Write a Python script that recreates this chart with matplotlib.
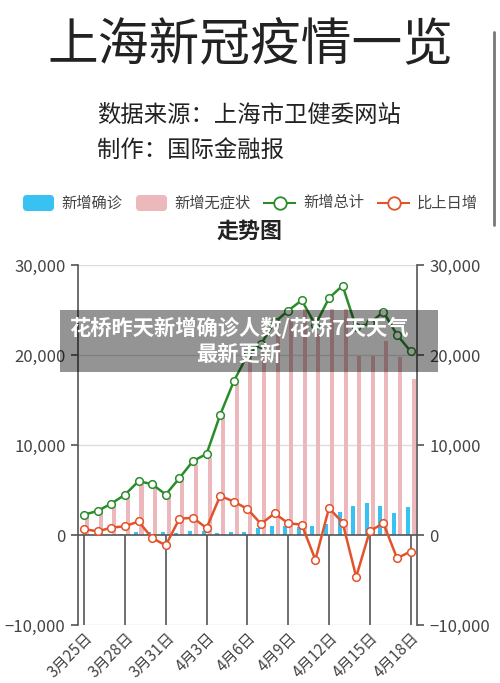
import numpy as np
import matplotlib
matplotlib.use('Agg')
import matplotlib.pyplot as plt
from matplotlib.patches import FancyBboxPatch, Rectangle
from matplotlib.ticker import FuncFormatter

plt.rcParams['font.family'] = ['Noto Sans CJK SC', 'DejaVu Sans']

# ---- data (3/25 .. 4/18)
dates = ['3月25日', '3月26日', '3月27日', '3月28日', '3月29日', '3月30日', '3月31日',
         '4月1日', '4月2日', '4月3日', '4月4日', '4月5日', '4月6日', '4月7日',
         '4月8日', '4月9日', '4月10日', '4月11日', '4月12日', '4月13日', '4月14日',
         '4月15日', '4月16日', '4月17日', '4月18日']
confirmed = [38, 45, 50, 96, 326, 355, 358, 260, 438, 425, 268, 311, 322, 824,
             1015, 1006, 914, 994, 1189, 2573, 3200, 3590, 3238, 2417, 3084]
asymptomatic = [2231, 2631, 3450, 4381, 5656, 5298, 4144, 6051, 7788, 8581, 13086,
                16766, 19660, 20398, 22609, 23937, 25173, 22348, 25141, 25146,
                19872, 19923, 21582, 19831, 17332]
total = [2269, 2676, 3500, 4477, 5982, 5653, 4502, 6311, 8226, 9006, 13354, 17077,
         19982, 21222, 23624, 24943, 26087, 23342, 26330, 27719, 23072, 23513,
         24820, 22248, 20416]
daily_change = [660, 407, 824, 977, 1505, -329, -1151, 1809, 1915, 780, 4348, 3723,
                2905, 1240, 2402, 1319, 1144, -2745, 2988, 1389, -4647, 441, 1307,
                -2572, -1832]

blue = '#38c2f2'
pink = '#ecb8bc'
green = '#2b8c2b'
red = '#e2522b'
axis_col = '#555555'

fig = plt.figure(figsize=(5, 6.83), dpi=100)
ax = fig.add_axes([0.156, 0.0849, 0.678, 0.527])

x = np.arange(len(dates))
w = 0.3
ax.bar(x - 0.22, confirmed, width=w, color=blue, zorder=2)
ax.bar(x + 0.22, asymptomatic, width=w, color=pink, zorder=2)

ax.plot(x, total, color=green, lw=1.8, marker='o', ms=5.5, mfc='white', mec=green,
        mew=1.1, zorder=4)
ax.plot(x, daily_change, color=red, lw=1.8, marker='o', ms=5.5, mfc='white', mec=red,
        mew=1.1, zorder=5)

ax.set_xlim(-0.45, 24.47)
ax.set_ylim(-10000, 30000)

# grid / axis lines
for v in [10000, 20000, 30000, -10000]:
    ax.axhline(v, color='#dddddd', lw=1, zorder=1)
ax.axhline(0, color=axis_col, lw=1.2, zorder=3)
ax.vlines(x[::3], -10000, 0, color=axis_col, lw=1.2, zorder=3)

for s in ['top', 'bottom']:
    ax.spines[s].set_visible(False)
for s in ['left', 'right']:
    ax.spines[s].set_color(axis_col)
    ax.spines[s].set_linewidth(1.2)

ax.set_yticks([-10000, 0, 10000, 20000, 30000])
ax.yaxis.set_major_formatter(FuncFormatter(lambda v, p: f'{v:,.0f}'.replace('-', '−')))
ax.tick_params(axis='y', right=True, labelright=True, direction='out', length=5,
               width=1.2, color=axis_col, labelsize=12, labelcolor='#444444', pad=4)

ax.set_xticks(x[::3])
ax.set_xticklabels(dates[::3], rotation=45, ha='right', rotation_mode='anchor')
ax.tick_params(axis='x', length=0, labelsize=11, labelcolor='#444444', pad=3)

# ---- header, legend, overlay in pixel coordinates
ov = fig.add_axes([0, 0, 1, 1], zorder=10)
ov.set_xlim(0, 500)
ov.set_ylim(683, 0)
ov.axis('off')
ov.patch.set_visible(False)

ov.text(250, 45, '上海新冠疫情一览', fontsize=36.5, color='#222222', ha='center', va='center')
ov.text(97, 115, '数据来源：上海市卫健委网站', fontsize=16.8, color='#222222', va='center')
ov.text(97, 150, '制作：国际金融报', fontsize=16.8, color='#222222', va='center')

ov.add_patch(FancyBboxPatch((23, 195), 31, 16, boxstyle='round,pad=0,rounding_size=4',
                            color=blue, lw=0))
ov.text(61, 203, '新增确诊', fontsize=11, color='#444444', va='center')
ov.add_patch(FancyBboxPatch((136, 195), 31, 16, boxstyle='round,pad=0,rounding_size=4',
                            color=pink, lw=0))
ov.text(174, 203, '新增无症状', fontsize=11, color='#444444', va='center')
ov.plot([264, 295], [203, 203], color=green, lw=1.5)
ov.plot(279.5, 203, marker='o', ms=9, mfc='white', mec=green, mew=1.3)
ov.text(303, 203, '新增总计', fontsize=11, color='#444444', va='center')
ov.plot([378, 409], [203, 203], color=red, lw=1.5)
ov.plot(393.5, 203, marker='o', ms=9, mfc='white', mec=red, mew=1.3)
ov.text(417, 203, '比上日增', fontsize=11, color='#444444', va='center')

ov.text(250, 231, '走势图', fontsize=15.8, fontweight='bold', color='#222222',
        ha='center', va='center')

# scrollbar
ov.plot([494, 494], [32, 225], color='#777777', lw=2, solid_capstyle='round')

# watermark band
ov.add_patch(Rectangle((60, 310), 378, 62, color='black', alpha=0.42, lw=0))
ov.text(239, 328, '花桥昨天新增确诊人数/花桥7天天气', fontsize=15.3, fontweight='bold',
        color='white', ha='center', va='center')
ov.text(239, 354, '最新更新', fontsize=15.3, fontweight='bold', color='white',
        ha='center', va='center')

fig.savefig('out.png', dpi=100)
